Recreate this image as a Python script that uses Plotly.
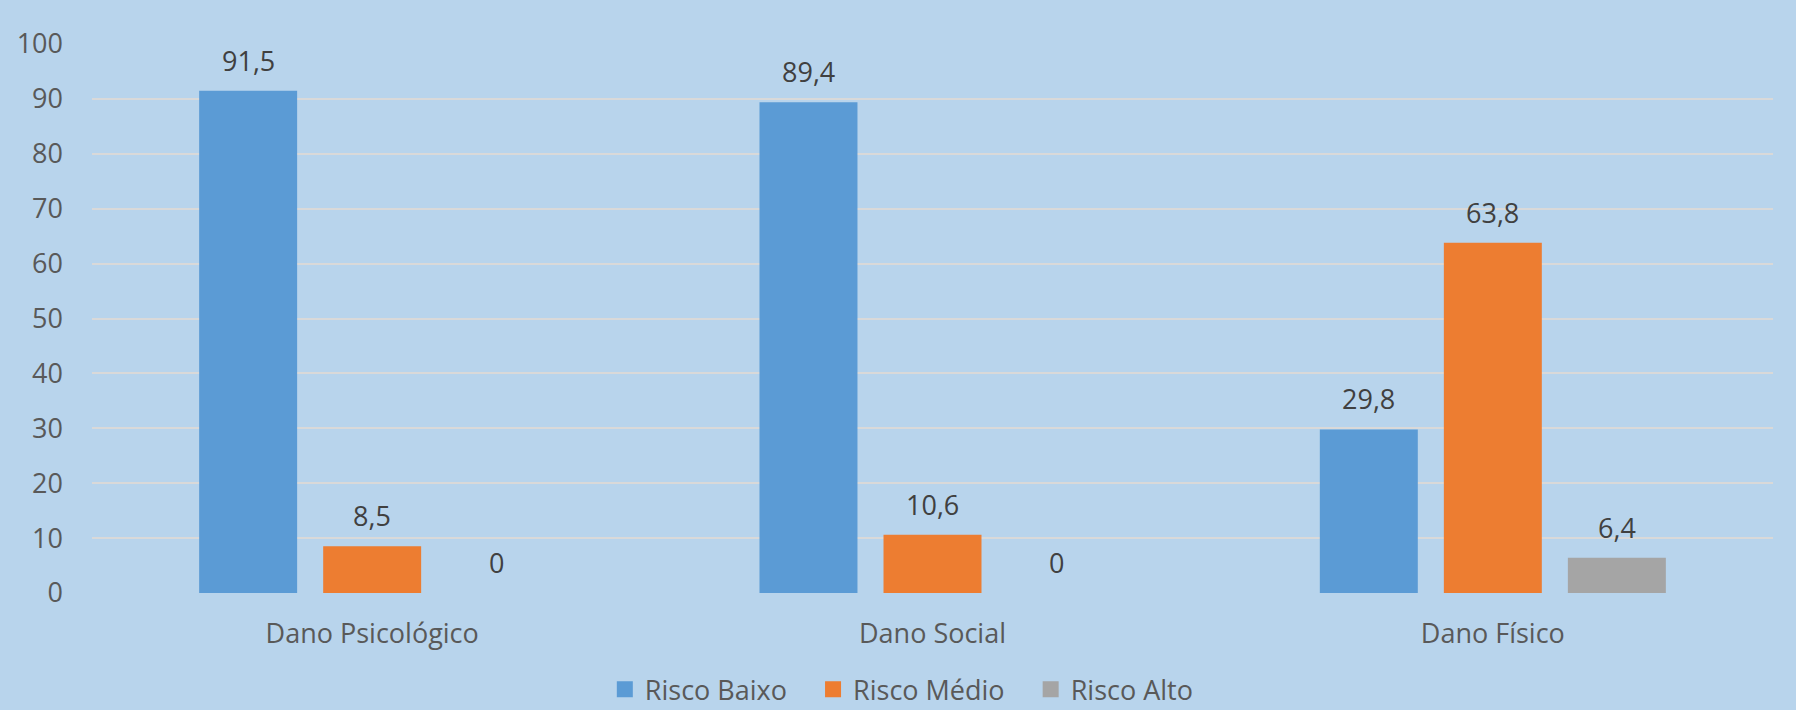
import plotly.graph_objects as go

categories = ["Dano Psicológico", "Dano Social", "Dano Físico"]
series_names = ["Risco Baixo", "Risco Médio", "Risco Alto"]
risco_baixo = [91.5, 89.4, 29.8]
risco_medio = [8.5, 10.6, 63.8]
risco_alto = [0, 0, 6.4]
colors = ["#5B9BD5", "#ED7D31", "#A5A5A5"]
y_ticks = [0, 10, 20, 30, 40, 50, 60, 70, 80, 90, 100]

series_values = [risco_baixo, risco_medio, risco_alto]

W, H = 1796, 710
ML, MR, MT, MB = 92, 23, 44, 117
plot_w = W - ML - MR
cat_w = plot_w / len(categories)
bargap = 0.336
bargroupgap = 0.21
slot = cat_w * (1 - bargap) / len(series_values)

FONT = "Open Sans"
BG = "#B8D4EC"


def fmt(v):
    if v == 0:
        return "0"
    return f"{v:.1f}".replace(".", ",")


fig = go.Figure()
for name, vals, col in zip(series_names, series_values, colors):
    fig.add_trace(go.Bar(
        x=categories, y=vals, name=name, marker_color=col,
        marker_line_width=0, showlegend=False, hoverinfo="skip",
    ))
    # legend proxy
    fig.add_trace(go.Scatter(
        x=[None], y=[None], mode="markers", name=name + "   ",
        marker=dict(symbol="square", size=16, color=col),
        showlegend=True, hoverinfo="skip",
    ))

annotations = []
n = len(series_values)
for i, vals in enumerate(series_values):
    shift = (i - (n - 1) / 2) * slot
    for cat, v in zip(categories, vals):
        annotations.append(dict(
            x=cat, y=v, xref="x", yref="y", text=fmt(v), showarrow=False,
            xanchor="center", yanchor="bottom", xshift=shift, yshift=10,
            font=dict(family=FONT, size=27, color="#404040"),
        ))

fig.update_layout(
    width=W, height=H,
    margin=dict(l=ML, r=MR, t=MT, b=MB, pad=0, autoexpand=False),
    paper_bgcolor=BG, plot_bgcolor=BG,
    barmode="group", bargap=bargap, bargroupgap=bargroupgap,
    font=dict(family=FONT, size=27, color="#595959"),
    annotations=annotations,
    legend=dict(
        orientation="h", x=0.488, xanchor="center", y=-0.176, yanchor="middle",
        font=dict(family=FONT, size=27, color="#595959"),
        itemsizing="trace", bgcolor="rgba(0,0,0,0)", itemwidth=30,
    ),
    showlegend=True,
    hovermode=False,
)
fig.update_xaxes(
    showgrid=False, zeroline=False, showline=False, ticks="", automargin=False,
    tickfont=dict(family=FONT, size=27, color="#595959"),
    ticklabelstandoff=22,
)
fig.update_yaxes(
    range=[0, 100], tickvals=y_ticks, showgrid=True, gridcolor="#D9D9D9",
    gridwidth=2, zeroline=False, showline=False, ticks="", automargin=False,
    tickfont=dict(family=FONT, size=27, color="#595959"),
    ticklabelstandoff=28,
)

fig.write_html(
    "out.html",
    config={"displayModeBar": False},
    post_script="document.body.style.margin='0';document.body.style.background='%s';" % BG,
)
